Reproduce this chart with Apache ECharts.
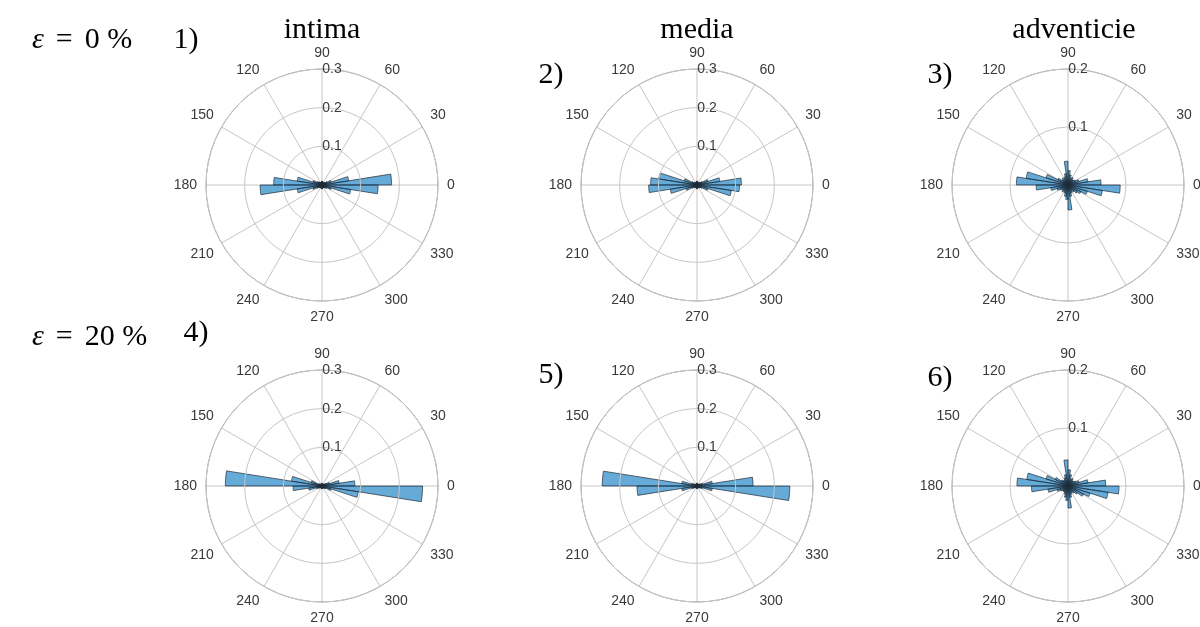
<!DOCTYPE html>
<html><head><meta charset="utf-8">
<script src="https://cdn.jsdelivr.net/npm/echarts@6/dist/echarts.min.js"></script>
<style>html,body{margin:0;padding:0;background:#fff}#c{width:1200px;height:627px}</style>
</head><body><div id="c"></div>
<script>
// bin start angles (degrees), each bin 9 degrees wide
const binStarts = [0,9,18,27,36,45,54,63,72,81,90,99,108,117,126,135,144,153,162,171,
                   180,189,198,207,216,225,234,243,252,261,270,279,288,297,306,315,324,333,342,351];
const binWidth = 9;

const columnTitles = ['intima', 'media', 'adventicie'];
const rowLabels = ['0', '20'];
const panelNumbers = ['1)', '2)', '3)', '4)', '5)', '6)'];
const radiusMax = [0.3, 0.3, 0.2, 0.3, 0.3, 0.2];

const intima0 = [0.18,0.07,0.025,0.015,0.01,0.008,0.008,0.007,0.008,0.01,0.01,0.008,0.007,0.008,0.01,0.012,0.015,0.025,0.065,0.125,
                 0.16,0.065,0.025,0.015,0.01,0.008,0.007,0.008,0.009,0.01,0.01,0.008,0.007,0.008,0.01,0.012,0.015,0.025,0.075,0.145];
const media0 = [0.115,0.06,0.03,0.015,0.01,0.008,0.008,0.007,0.008,0.01,0.01,0.008,0.007,0.008,0.008,0.01,0.015,0.035,0.10,0.12,
                0.125,0.07,0.03,0.015,0.01,0.008,0.007,0.008,0.008,0.01,0.01,0.008,0.007,0.008,0.01,0.01,0.015,0.03,0.09,0.11];
const adventicie0 = [0.057,0.035,0.02,0.015,0.012,0.012,0.015,0.012,0.018,0.025,0.041,0.02,0.015,0.012,0.015,0.012,0.02,0.04,0.073,0.089,
                     0.055,0.03,0.02,0.015,0.012,0.015,0.012,0.015,0.02,0.025,0.043,0.02,0.015,0.012,0.015,0.02,0.025,0.035,0.06,0.09];
const intima20 = [0.085,0.045,0.02,0.012,0.008,0.006,0.006,0.005,0.006,0.007,0.007,0.006,0.005,0.006,0.006,0.008,0.01,0.03,0.08,0.25,
                  0.075,0.035,0.015,0.01,0.008,0.006,0.005,0.006,0.006,0.007,0.007,0.006,0.005,0.006,0.008,0.01,0.012,0.025,0.095,0.26];
const media20 = [0.145,0.04,0.015,0.01,0.007,0.006,0.005,0.005,0.006,0.007,0.007,0.006,0.005,0.005,0.006,0.007,0.01,0.015,0.04,0.245,
                 0.155,0.04,0.015,0.01,0.007,0.006,0.005,0.005,0.006,0.007,0.007,0.006,0.005,0.005,0.006,0.007,0.01,0.015,0.04,0.24];
const adventicie20 = [0.065,0.035,0.02,0.015,0.012,0.012,0.015,0.012,0.02,0.028,0.045,0.02,0.015,0.012,0.012,0.015,0.025,0.04,0.072,0.088,
                      0.063,0.035,0.02,0.015,0.012,0.012,0.012,0.015,0.02,0.025,0.038,0.02,0.015,0.012,0.015,0.02,0.03,0.04,0.07,0.088];

const panelValues = [intima0, media0, adventicie0, intima20, media20, adventicie20];

// layout
const centersX = [322, 697, 1068];
const centersY = [185, 486];
const R = 116;

const chart = echarts.init(document.getElementById('c'));
const polar = [], angleAxis = [], radiusAxis = [], series = [];
const gridColor = '#c6c6c6';
const labelColor = '#3a3a3a';
const labelFont = 'Liberation Sans';

panelValues.forEach((vals, i) => {
  const col = i % 3, row = Math.floor(i / 3);
  polar.push({ center: [centersX[col], centersY[row]], radius: R });
  angleAxis.push({
    polarIndex: i, type: 'value', min: 90, max: 450, interval: 30,
    startAngle: 90, clockwise: false,
    axisLine: { show: true, lineStyle: { color: '#9a9a9a', width: 1 } },
    axisTick: { show: false },
    axisLabel: {
      margin: 9, fontSize: 14, color: labelColor, fontFamily: labelFont,
      formatter: v => (v >= 450 ? '' : String(v % 360))
    },
    splitLine: { show: true, lineStyle: { color: gridColor, width: 1 } }
  });
  radiusAxis.push({
    polarIndex: i, type: 'value', min: 0, max: radiusMax[i], interval: 0.1,
    axisLine: { show: false }, axisTick: { show: false },
    axisLabel: {
      fontSize: 14, color: labelColor, fontFamily: labelFont, margin: -10,
      verticalAlign: 'middle', align: 'center',
      formatter: v => (v === 0 ? '' : v.toFixed(1))
    },
    splitLine: { show: true, lineStyle: { color: gridColor, width: 1 } },
    z: 5
  });
  series.push({
    type: 'custom', coordinateSystem: 'polar', polarIndex: i, z: 3,
    data: binStarts.map((a, k) => [vals[k], a]),
    renderItem: (params, api) => {
      const r = api.value(0);
      const a = api.value(1);
      const a0 = a < 90 ? a + 360 : a;
      const pts = [api.coord([0, a0]), api.coord([0, a0 + binWidth])];
      const steps = 6;
      for (let s = steps; s >= 0; s--) pts.push(api.coord([r, a0 + binWidth * s / steps]));
      return {
        type: 'polygon', shape: { points: pts },
        style: { fill: 'rgba(0,114,189,0.6)', stroke: '#1f2a33', lineWidth: 0.7 }
      };
    }
  });
});

const serif = '"Liberation Serif", "Times New Roman", serif';
const graphic = [];
columnTitles.forEach((t, c) => {
  graphic.push({ type: 'text', x: centersX[c] + (c === 2 ? 6 : 0), y: 30,
    style: { text: t, font: '30px ' + serif, fill: '#000', align: 'center', verticalAlign: 'middle' } });
});
rowLabels.forEach((t, r) => {
  graphic.push({ type: 'text', x: 32, y: r === 0 ? 40 : 337,
    style: { text: '{e|ε}{q|=}' + t + ' %', font: '30px ' + serif, fill: '#000', align: 'left', verticalAlign: 'middle',
      rich: {
        e: { font: 'italic 30px ' + serif },
        q: { font: '30px ' + serif, padding: [0, 12, 0, 12] }
      } } });
});
const numPos = [[186, 40], [551, 75], [940, 75], [196, 333], [551, 375], [940, 378]];
panelNumbers.forEach((t, i) => {
  graphic.push({ type: 'text', x: numPos[i][0], y: numPos[i][1],
    style: { text: t, font: '30px ' + serif, fill: '#000', align: 'center', verticalAlign: 'middle' } });
});

chart.setOption({
  animation: false,
  backgroundColor: '#fff',
  polar, angleAxis, radiusAxis, series, graphic
});
</script></body></html>
